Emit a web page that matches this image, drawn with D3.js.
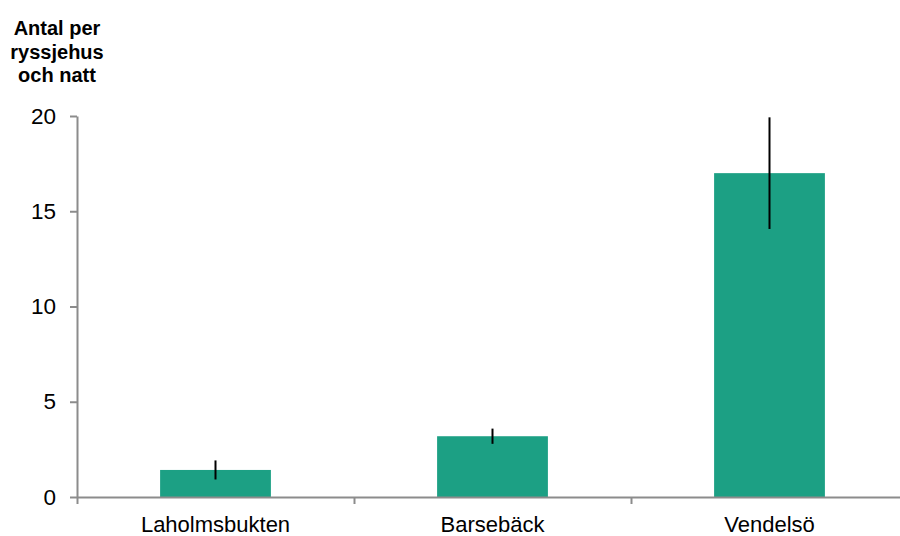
<!DOCTYPE html>
<html>
<head>
<meta charset="utf-8">
<script src="https://cdn.jsdelivr.net/npm/d3@7"></script>
<style>
  html, body { margin: 0; padding: 0; background: #fff; overflow: hidden; }
  svg { display: block; font-family: "Liberation Sans", Arial, sans-serif; }
</style>
</head>
<body>
<svg id="chart" width="900" height="536"></svg>
<script>
// ---- data ----
const categories = ["Laholmsbukten", "Barsebäck", "Vendelsö"];
const means = [1.42, 3.19, 17.0];
const errors = [0.5, 0.4, 2.93];
const yTicks = [0, 5, 10, 15, 20];
const titleLines = ["Antal per", "ryssjehus", "och natt"];

// ---- layout ----
const svg = d3.select("#chart");
const x0 = 77, x1 = 908, yTop = 116, yBottom = 497;
const axisColor = "#8c8c8c";
const barColor = "#1ca084";

const y = d3.scaleLinear().domain([0, 20]).range([yBottom, yTop]);
const x = d3.scaleBand().domain(categories).range([x0, x1]).padding(0);
const xEdges = d3.scaleLinear().domain([0, categories.length]).range([x0, x1]);
const barW = x.bandwidth() * 0.4;

// title
const title = svg.append("text")
  .attr("x", 57).attr("y", 35)
  .attr("text-anchor", "middle")
  .attr("font-weight", "bold")
  .attr("font-size", 20)
  .attr("fill", "#000");
titleLines.forEach((t, i) => {
  title.append("tspan").attr("x", 57).attr("dy", i === 0 ? 0 : 23.5).text(t);
});

// bars
const data = categories.map((c, i) => ({ c, m: means[i], e: errors[i] }));
svg.append("g").selectAll("rect").data(data).join("rect")
  .attr("x", d => x(d.c) + (x.bandwidth() - barW) / 2)
  .attr("width", barW)
  .attr("y", d => y(d.m))
  .attr("height", d => y(0) - y(d.m))
  .attr("fill", barColor);

// error bars
svg.append("g").selectAll("line").data(data).join("line")
  .attr("x1", d => x(d.c) + x.bandwidth() / 2)
  .attr("x2", d => x(d.c) + x.bandwidth() / 2)
  .attr("y1", d => y(d.m + d.e))
  .attr("y2", d => y(d.m - d.e))
  .attr("stroke", "#000")
  .attr("stroke-width", 2);

// y axis
const yAxis = svg.append("g")
  .attr("transform", `translate(${x0},0)`)
  .call(d3.axisLeft(y).tickValues(yTicks).tickSize(7).tickSizeOuter(0).tickPadding(14));
yAxis.selectAll("text").attr("font-size", 22.5).attr("fill", "#000")
  .attr("font-family", "Liberation Sans, Arial, sans-serif");

// x axis boundary ticks
svg.append("g")
  .attr("transform", `translate(0,${yBottom})`)
  .call(d3.axisBottom(xEdges).tickValues(d3.range(categories.length + 1)).tickFormat("").tickSize(7).tickSizeOuter(0));

// x axis labels
const xAxis = svg.append("g")
  .attr("transform", `translate(0,${yBottom})`)
  .call(d3.axisBottom(x).tickSize(0).tickPadding(19));
xAxis.select(".domain").remove();
xAxis.selectAll("text").attr("font-size", 22).attr("fill", "#000")
  .attr("font-family", "Liberation Sans, Arial, sans-serif");

svg.selectAll(".domain, .tick line").attr("stroke", axisColor).attr("stroke-width", 2);
</script>
</body>
</html>
